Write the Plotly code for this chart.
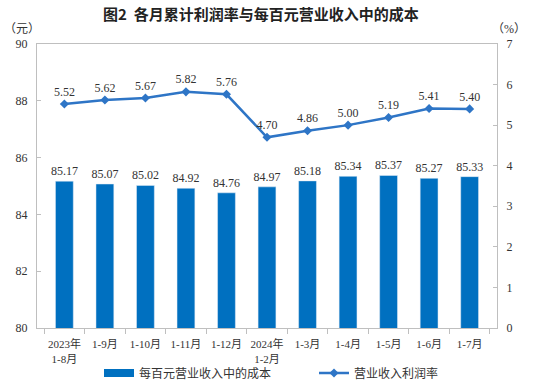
import plotly.graph_objects as go

categories = ["2023年<br>1-8月", "1-9月", "1-10月", "1-11月", "1-12月", "2024年<br>1-2月",
              "1-3月", "1-4月", "1-5月", "1-6月", "1-7月"]
cost_per_100 = [85.17, 85.07, 85.02, 84.92, 84.76, 84.97, 85.18, 85.34, 85.37, 85.27, 85.33]
profit_rate = [5.52, 5.62, 5.67, 5.82, 5.76, 4.70, 4.86, 5.00, 5.19, 5.41, 5.40]

serif = "Liberation Serif, Noto Sans CJK SC"
cjk = "Liberation Serif, Noto Sans CJK SC"
bar_color = "#0070C0"
line_color = "#2E75C6"

L, R, T, B = 37, 57, 44, 58
plot_w = 554 - L - R
plot_h = 386 - T - B

fig = go.Figure()
fig.add_trace(go.Bar(
    x=categories, y=cost_per_100, name="每百元营业收入中的成本", showlegend=False,
    marker=dict(color=bar_color), width=0.44,
    text=[f"{v:.2f}" for v in cost_per_100], textposition="outside", constraintext="none",
    textfont=dict(family=serif, size=12, color="#333333"), cliponaxis=False,
))
# legend proxy for the bar series (wide rectangle swatch)
fig.add_trace(go.Scatter(
    x=[None], y=[None], name="每百元营业收入中的成本", mode="lines",
    line=dict(color=bar_color, width=8), legend="legend", hoverinfo="skip",
))
fig.add_trace(go.Scatter(
    x=categories, y=profit_rate, name="营业收入利润率", yaxis="y2",
    mode="lines+markers+text", legend="legend2",
    line=dict(color=line_color, width=2.5),
    marker=dict(symbol="diamond", size=7, color=line_color),
    text=[f"{v:.2f}" for v in profit_rate], textposition="top center",
    textfont=dict(family=serif, size=12, color="#333333"), cliponaxis=False,
))

axis_color = "#BFBFBF"
leg_font = dict(family="Noto Sans CJK SC", size=12, color="#333333")
fig.update_layout(
    width=554, height=386,
    margin=dict(l=L, r=R, t=T, b=B, autoexpand=False),
    plot_bgcolor="white", paper_bgcolor="white",
    title=dict(text="<b>图2  各月累计利润率与每百元营业收入中的成本</b>", x=0.471, xanchor="center",
               y=0.963, yanchor="middle", font=dict(family="Noto Sans CJK SC", size=15, color="#222222")),
    showlegend=True,
    legend=dict(orientation="h", x=(99 - L) / plot_w, xanchor="left", y=-(373 - 328) / plot_h,
                yanchor="middle", font=leg_font, bgcolor="rgba(0,0,0,0)"),
    legend2=dict(orientation="h", x=(314 - L) / plot_w, xanchor="left", y=-(373 - 328) / plot_h,
                 yanchor="middle", font=leg_font, bgcolor="rgba(0,0,0,0)"),
    bargap=0.56,
    xaxis=dict(showline=True, linecolor=axis_color, linewidth=1, mirror=True,
               ticks="outside", tickson="boundaries", ticklen=5, tickcolor=axis_color,
               tickangle=0, automargin=False, ticklabelstandoff=6,
               tickfont=dict(family=serif, size=11, color="#333333"), showgrid=False),
    yaxis=dict(range=[80, 90], dtick=2, showline=True, linecolor=axis_color, linewidth=1,
               ticks="inside", ticklen=4, tickcolor=axis_color, showgrid=False, zeroline=False,
               automargin=False, ticklabelstandoff=6,
               tickfont=dict(family=serif, size=12, color="#333333")),
    yaxis2=dict(range=[0, 7], dtick=1, overlaying="y", side="right", showline=True,
                linecolor=axis_color, linewidth=1, ticks="inside", ticklen=4, tickcolor=axis_color,
                showgrid=False, zeroline=False, automargin=False, ticklabelstandoff=6,
                tickfont=dict(family=serif, size=12, color="#333333")),
    annotations=[
        dict(text="（元）", x=(2 - L) / plot_w, xref="paper", xanchor="left",
             y=(328 - 29) / plot_h, yref="paper", yanchor="middle", showarrow=False,
             font=dict(family=cjk, size=12, color="#333333")),
        dict(text="（%）", x=(528 - L) / plot_w, xref="paper", xanchor="right",
             y=(328 - 29) / plot_h, yref="paper", yanchor="middle", showarrow=False,
             font=dict(family=cjk, size=12, color="#333333")),
    ],
)

fig.write_html("out.html", config={"displayModeBar": False},
               post_script="document.body.style.margin='0';document.body.style.overflow='hidden';")
